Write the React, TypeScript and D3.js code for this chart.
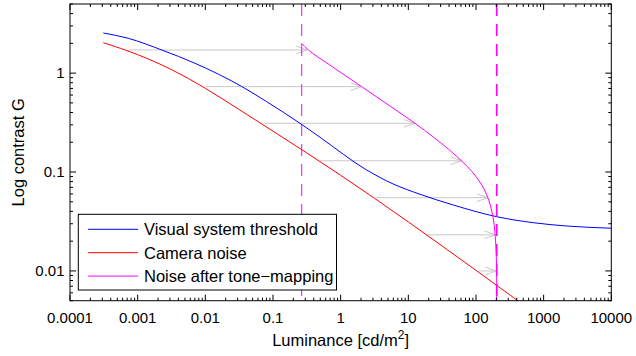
import React from "react";
import * as d3 from "d3";

// ---- data ----
const xTickValues = [1e-4, 1e-3, 1e-2, 1e-1, 1, 10, 100, 1000, 10000];
const xTickLabels = ["0.0001", "0.001", "0.01", "0.1", "1", "10", "100", "1000", "10000"];
const yTickValues = [0.01, 0.1, 1];
const yTickLabels = ["0.01", "0.1", "1"];

const visualLum = [3.106e-4, 7.27e-4, 2.266e-3, 7.04e-3, 0.03448, 0.08072, 0.2507, 0.4953, 2.427, 6.001, 14.89, 46.24, 202.5, 703.8, 2193, 10000];
const visualG = [2.545, 2.25, 1.714, 1.257, 0.7325, 0.5142, 0.311, 0.2245, 0.1048, 0.0756, 0.0596, 0.0464, 0.03535, 0.03074, 0.02846, 0.02704];

const cameraLum = [3.106e-4, 1e-3, 3.16e-3, 0.01, 0.0316, 0.1, 0.316, 1, 3.16, 10, 31.6, 100, 316, 450];
const cameraG = [2.03, 1.538, 1.085, 0.702, 0.4286, 0.2589, 0.156, 0.0928, 0.0543, 0.0313, 0.01787, 0.01013, 0.00573, 0.0048];

const toneLum = [0.2657, 0.2923, 0.3327, 0.6574, 2.048, 6.361, 12.56, 23.42, 41.34, 61.54, 84.49, 109.0, 133.7, 154.3, 169.7, 181.6, 190.5, 196.5, 200.5, 202.5, 202.5];
const toneG = [2.003, 1.864, 1.714, 1.237, 0.7291, 0.4288, 0.311, 0.226, 0.1651, 0.1293, 0.1036, 0.0831, 0.0658, 0.0522, 0.0413, 0.0327, 0.0247, 0.0183, 0.0129, 0.0081, 0.005];

const arrowG = [1.714, 0.73, 0.311, 0.13, 0.055, 0.0232, 0.01];
const arrowFrom = [7.3e-4, 0.0105, 0.0762, 0.494, 3.21, 18.9, 111];
const arrowTo = [0.32, 2.05, 12.5, 61.4, 150, 194, 200];

const displayRange = [0.2657, 202.5];

const legendLabels = ["Visual system threshold", "Camera noise", "Noise after tone\u2212mapping"];
const legendColors = ["#0000ff", "#ff0000", "#ff00ff"];

// ---- layout ----
const W = 636, H = 356;
const L = 70, R = 611.3, T = 4, B = 300.7;
const FONT = "'Liberation Sans', Arial, Helvetica, sans-serif";

export default function App() {
  const x = d3.scaleLog().domain([1e-4, 1e4]).range([L, R]);
  const y = d3.scaleLog().domain([0.005, 5]).range([B, T]);

  const line = d3
    .line<[number, number]>()
    .x((d) => x(d[0]))
    .y((d) => y(d[1]))
    .curve(d3.curveMonotoneX);

  const lineTone = d3
    .line<[number, number]>()
    .x((d) => x(d[0]))
    .y((d) => y(d[1]))
    .curve(d3.curveMonotoneY);

  const zip = (a: number[], b: number[]) => a.map((v, i) => [v, b[i]] as [number, number]);

  const xMinor: number[] = [];
  for (let e = -4; e < 4; e++) for (let k = 2; k <= 9; k++) xMinor.push(k * Math.pow(10, e));
  const yMinorVals: number[] = [];
  for (let e = -3; e <= 0; e++)
    for (let k = 2; k <= 9; k++) {
      const v = k * Math.pow(10, e);
      if (v >= 0.005 - 1e-9 && v <= 5 + 1e-9) yMinorVals.push(v);
    }

  const maj = 6, mnr = 3;

  return (
    <svg
      width={W}
      height={H}
      style={{ position: "absolute", left: 0, top: 0, background: "#fff" }}
      fontFamily={FONT}
    >
      <rect x={0} y={0} width={W} height={H} fill="#fff" />
      <defs>
        <clipPath id="plotclip">
          <rect x={L} y={T} width={R - L} height={B - T} />
        </clipPath>
      </defs>

      <g clipPath="url(#plotclip)">
        {arrowG.map((g, i) => {
          const x0 = x(arrowFrom[i]);
          const x1 = x(arrowTo[i]);
          const yy = y(g);
          return (
            <g key={i} stroke="#c8c8c8" strokeWidth={1} fill="none">
              <line x1={x0} y1={yy} x2={x1} y2={yy} />
              <polyline points={`${x1 - 11},${yy - 3.8} ${x1},${yy} ${x1 - 11},${yy + 3.8}`} />
            </g>
          );
        })}
        <line
          x1={x(displayRange[0])}
          x2={x(displayRange[0])}
          y1={T}
          y2={B}
          stroke="#ff00ff"
          strokeWidth={1}
          strokeDasharray="12,8"
        />
        <line
          x1={x(displayRange[1])}
          x2={x(displayRange[1])}
          y1={T}
          y2={B}
          stroke="#ff00ff"
          strokeWidth={1.6}
          strokeDasharray="12,8"
        />
        <path d={line(zip(visualLum, visualG)) || ""} stroke="#0000ff" strokeWidth={1} fill="none" />
        <path d={line(zip(cameraLum, cameraG)) || ""} stroke="#ff0000" strokeWidth={1} fill="none" />
        <path d={lineTone(zip(toneLum, toneG)) || ""} stroke="#ff00ff" strokeWidth={1} fill="none" />
      </g>

      <rect x={L} y={T} width={R - L} height={B - T} fill="none" stroke="#000" strokeWidth={1} />

      <g stroke="#000" strokeWidth={1}>
        {xTickValues.map((v, i) => (
          <g key={"xm" + i}>
            <line x1={x(v)} x2={x(v)} y1={B} y2={B - maj} />
            <line x1={x(v)} x2={x(v)} y1={T} y2={T + maj} />
          </g>
        ))}
        {xMinor.map((v, i) => (
          <g key={"xn" + i}>
            <line x1={x(v)} x2={x(v)} y1={B} y2={B - mnr} />
            <line x1={x(v)} x2={x(v)} y1={T} y2={T + mnr} />
          </g>
        ))}
        {yTickValues.map((v, i) => (
          <g key={"ym" + i}>
            <line x1={L} x2={L + maj} y1={y(v)} y2={y(v)} />
            <line x1={R} x2={R - maj} y1={y(v)} y2={y(v)} />
          </g>
        ))}
        {yMinorVals.map((v, i) => (
          <g key={"yn" + i}>
            <line x1={L} x2={L + mnr} y1={y(v)} y2={y(v)} />
            <line x1={R} x2={R - mnr} y1={y(v)} y2={y(v)} />
          </g>
        ))}
      </g>

      <g fontSize={15} fill="#000">
        {xTickValues.map((v, i) => (
          <text key={"xl" + i} x={x(v)} y={322.5} textAnchor="middle">
            {xTickLabels[i]}
          </text>
        ))}
        {yTickValues.map((v, i) => (
          <text key={"yl" + i} x={64.5} y={y(v) + 5.3} textAnchor="end">
            {yTickLabels[i]}
          </text>
        ))}
      </g>

      <text x={(L + R) / 2} y={345.5} fontSize={16.5} textAnchor="middle" fill="#000">
        Luminance [cd/m
        <tspan dy={-6.5} fontSize={12}>2</tspan>
        <tspan dy={6.5}>]</tspan>
      </text>
      <text
        transform={`translate(23.5,${(T + B) / 2}) rotate(-90)`}
        fontSize={16.5}
        textAnchor="middle"
        fill="#000"
      >
        Log contrast G
      </text>

      <rect x={78.3} y={214.3} width={258.2} height={75.7} fill="#fff" stroke="#000" strokeWidth={1} />
      {legendLabels.map((lab, i) => {
        const yy = 229.3 + i * 23.4;
        return (
          <g key={"lg" + i}>
            <line x1={88} x2={138} y1={yy} y2={yy} stroke={legendColors[i]} strokeWidth={1} />
            <text x={144} y={yy + 5.8} fontSize={16.5} fill="#000">
              {lab}
            </text>
          </g>
        );
      })}
    </svg>
  );
}
